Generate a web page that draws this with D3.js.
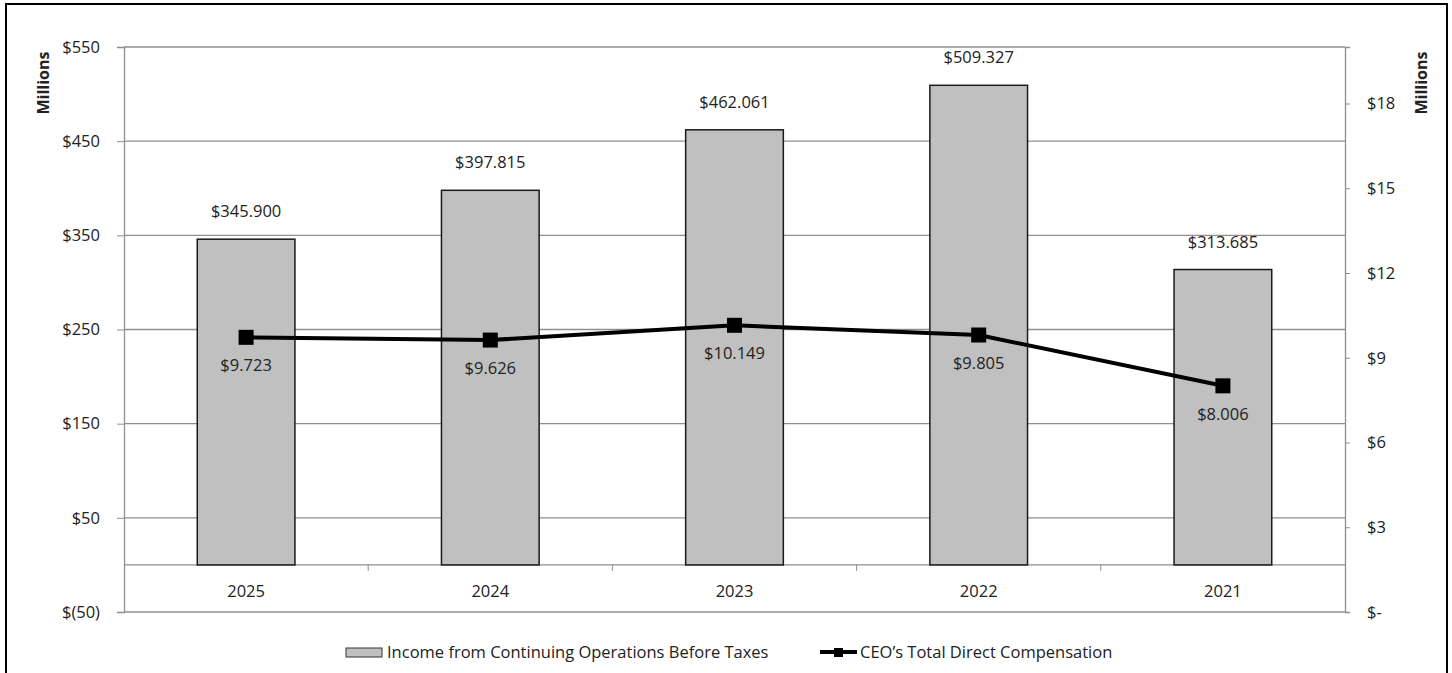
<!DOCTYPE html>
<html><head><meta charset="utf-8">
<script src="https://cdn.jsdelivr.net/npm/d3@7"></script>
<style>body{margin:0;background:#fff}svg text{font-family:"Open Sans",Lato,sans-serif;fill:#222}</style>
</head><body><svg id="c" width="1452" height="673"></svg>
<script>
const categories = ["2025", "2024", "2023", "2022", "2021"];
const incomeValues = [345.900, 397.815, 462.061, 509.327, 313.685];
const ceoValues = [9.723, 9.626, 10.149, 9.805, 8.006];
const leftTicks = [-50, 50, 150, 250, 350, 450, 550];
const rightTicks = [0, 3, 6, 9, 12, 15, 18];
const seriesNames = ["Income from Continuing Operations Before Taxes", "CEO\u2019s Total Direct Compensation"];
const axisTitle = "Millions";

const svg = d3.select("#c");
const L = 124, R = 1345, T = 47, B = 612;
const FS = 16.5;
const gridColor = "#8f8f8f";

svg.append("rect").attr("x", 6).attr("y", 4).attr("width", 1441).attr("height", 700)
  .attr("fill", "none").attr("stroke", "#000").attr("stroke-width", 2);

const x = d3.scaleBand().domain(categories).range([L, R]).paddingInner(0.6).paddingOuter(0.3);
const yL = d3.scaleLinear().domain([-50, 550]).range([B, T]);
const yR = d3.scaleLinear().domain([0, 20]).range([B, T]);
const step = x.step();

// gridlines
svg.append("g").selectAll("line").data(leftTicks).join("line")
  .attr("x1", L).attr("x2", R).attr("y1", d => yL(d)).attr("y2", d => yL(d))
  .attr("stroke", gridColor).attr("stroke-width", 1.3);

// left axis
const fmtL = v => v < 0 ? "$(" + (-v) + ")" : "$" + v;
const gL = svg.append("g").attr("transform", `translate(${L},0)`)
  .call(d3.axisLeft(yL).tickValues(leftTicks).tickFormat(fmtL).tickSizeOuter(0).tickSize(7).tickPadding(17));
gL.select(".domain").attr("stroke", gridColor).attr("stroke-width", 1.3);
gL.selectAll(".tick line").attr("stroke", gridColor);
gL.selectAll("text").style("font-size", FS + "px").attr("fill", "#222");

// right axis
const fmtR = v => v === 0 ? "$-" : "$" + v;
const gR = svg.append("g").attr("transform", `translate(${R},0)`)
  .call(d3.axisRight(yR).tickValues(rightTicks).tickFormat(fmtR).tickSizeOuter(0).tickSize(5).tickPadding(17));
gR.select(".domain").attr("stroke", gridColor).attr("stroke-width", 1.3);
gR.selectAll(".tick line").attr("stroke", gridColor);
gR.selectAll("text").style("font-size", FS + "px").attr("fill", "#222");

// category axis at zero
const y0 = yL(0);
const gX = svg.append("g").attr("transform", `translate(0,${y0})`)
  .call(d3.axisBottom(x).tickSize(0).tickPadding(20));
gX.select(".domain").remove();
gX.selectAll("text").style("font-size", FS + "px").attr("fill", "#222");
svg.append("line").attr("x1", L).attr("x2", R).attr("y1", y0).attr("y2", y0)
  .attr("stroke", gridColor).attr("stroke-width", 1.3);
svg.append("g").selectAll("line").data(categories.slice(1)).join("line")
  .attr("x1", d => x(d) - (step - x.bandwidth()) / 2).attr("x2", d => x(d) - (step - x.bandwidth()) / 2)
  .attr("y1", y0).attr("y2", y0 + 6).attr("stroke", gridColor);

// bars
svg.append("g").selectAll("rect").data(incomeValues).join("rect")
  .attr("x", (d, i) => x(categories[i])).attr("width", x.bandwidth())
  .attr("y", d => yL(d)).attr("height", d => yL(0) - yL(d))
  .attr("fill", "#c0c0c0").attr("stroke", "#1a1a1a").attr("stroke-width", 1.5);
svg.append("g").selectAll("text").data(incomeValues).join("text")
  .attr("x", (d, i) => x(categories[i]) + x.bandwidth() / 2).attr("y", d => yL(d) - 22)
  .attr("text-anchor", "middle").style("font-size", FS + "px")
  .text(d => "$" + d.toFixed(3));

// line
const cx = (d, i) => x(categories[i]) + x.bandwidth() / 2;
const line = d3.line().x((d, i) => cx(d, i)).y(d => yR(d));
svg.append("path").datum(ceoValues).attr("d", line)
  .attr("fill", "none").attr("stroke", "#000").attr("stroke-width", 4).attr("stroke-linejoin", "round");
svg.append("g").selectAll("rect").data(ceoValues).join("rect")
  .attr("x", (d, i) => cx(d, i) - 7.5).attr("y", d => yR(d) - 7.5)
  .attr("width", 15).attr("height", 15).attr("fill", "#000");
svg.append("g").selectAll("text").data(ceoValues).join("text")
  .attr("x", (d, i) => cx(d, i)).attr("y", d => yR(d) + 34)
  .attr("text-anchor", "middle").style("font-size", FS + "px")
  .text(d => "$" + d.toFixed(3));

// axis titles
svg.append("text").attr("transform", "translate(49,83) rotate(-90)")
  .attr("text-anchor", "middle").style("font-size", "16px").style("font-weight", "bold").text(axisTitle);
svg.append("text").attr("transform", "translate(1427,83) rotate(-90)")
  .attr("text-anchor", "middle").style("font-size", "16px").style("font-weight", "bold").text(axisTitle);

// legend
const lg = svg.append("g");
lg.append("rect").attr("x", 346).attr("y", 648).attr("width", 36).attr("height", 9)
  .attr("fill", "#c0c0c0").attr("stroke", "#333").attr("stroke-width", 1);
lg.append("text").attr("x", 387).attr("y", 658).style("font-size", FS + "px").text(seriesNames[0]);
lg.append("line").attr("x1", 820).attr("x2", 857).attr("y1", 652).attr("y2", 652)
  .attr("stroke", "#000").attr("stroke-width", 4);
lg.append("rect").attr("x", 834).attr("y", 648).attr("width", 9).attr("height", 9).attr("fill", "#000");
lg.append("text").attr("x", 860).attr("y", 658).style("font-size", FS + "px").text(seriesNames[1]);
</script></body></html>
